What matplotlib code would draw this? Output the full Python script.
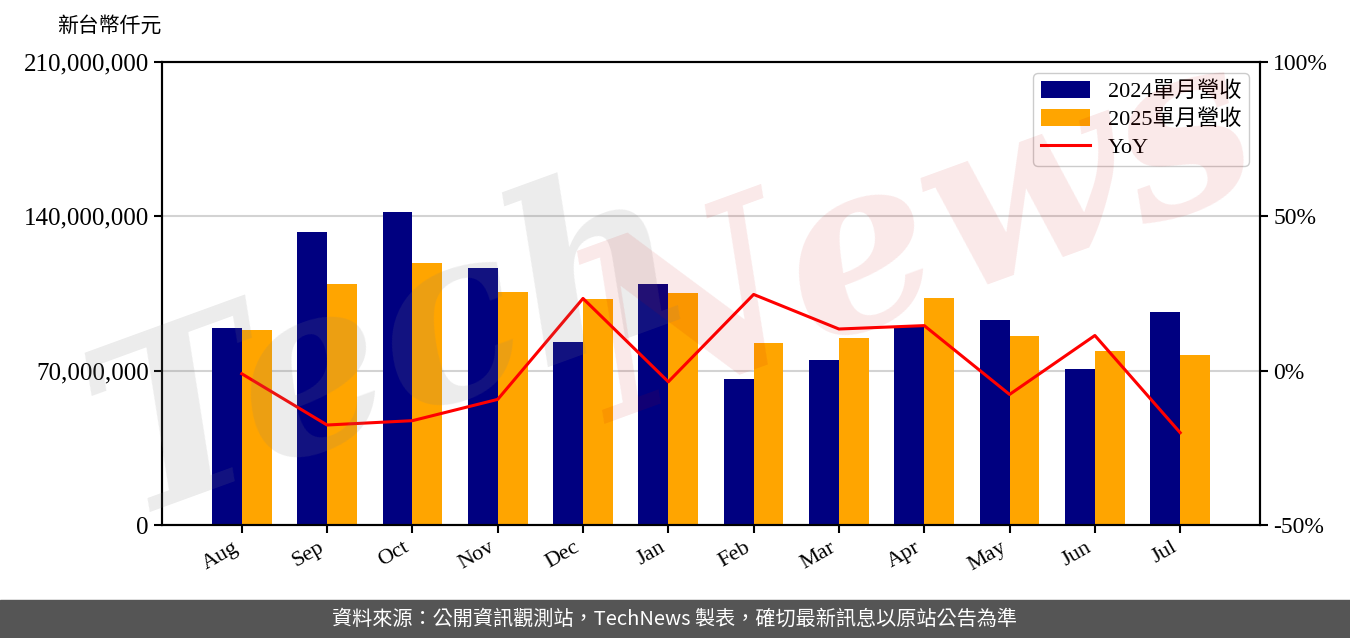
import numpy as np
import matplotlib.pyplot as plt
from matplotlib.ticker import FuncFormatter

# monthly revenue, NT$ thousand
months = ['Aug', 'Sep', 'Oct', 'Nov', 'Dec', 'Jan', 'Feb', 'Mar', 'Apr', 'May', 'Jun', 'Jul']
rev_2024 = [89.4e6, 132.9e6, 142.0e6, 116.6e6, 83.0e6, 109.3e6, 66.2e6, 74.8e6, 90.3e6, 93.0e6, 70.8e6, 96.6e6]
rev_2025 = [88.4e6, 109.3e6, 118.8e6, 105.7e6, 102.5e6, 105.2e6, 82.5e6, 84.8e6, 103.0e6, 85.7e6, 78.9e6, 77.1e6]
yoy = [-1.0, -17.6, -16.2, -9.3, 23.4, -3.6, 24.7, 13.5, 14.6, -7.7, 11.4, -20.1]

serif = ['Liberation Serif', 'Noto Sans CJK TC']
plt.rcParams['font.family'] = serif

fig = plt.figure(figsize=(13.5, 6.38), dpi=100)
ax = fig.add_axes([0.12, 0.1771, 0.8133, 0.7257])
ax2 = ax.twinx()

x = np.arange(len(months))
w = 0.35
# tick sits between the two bars of a month
b1 = ax.bar(x - w / 2, rev_2024, w, color='#000080')
b2 = ax.bar(x + w / 2, rev_2025, w, color='#FFA500')
ln, = ax2.plot(x, yoy, color='#FF0000', lw=2.2)

ax.set_ylim(0, 210e6)
ax.set_yticks([0, 70e6, 140e6, 210e6])
ax.yaxis.set_major_formatter(FuncFormatter(lambda v, p: f'{int(v):,}'))
ax2.set_ylim(-50, 100)
ax2.set_yticks([-50, 0, 50, 100])
ax2.yaxis.set_major_formatter(FuncFormatter(lambda v, p: f'{int(v)}%'))

ax.set_xticks(x)
ax.set_xticklabels(months, rotation=30, ha='right')
ax.grid(axis='y', color='#d3d3d3', lw=1.5)
ax.set_axisbelow(True)

for a in (ax, ax2):
    for s in a.spines.values():
        s.set_linewidth(1.5)
    a.tick_params(width=1.5, length=6)
ax.tick_params(axis='x', labelsize=16)
ax.tick_params(axis='y', labelsize=18)
ax2.tick_params(axis='y', labelsize=17)

fig.text(57 / 1350, 1 - 27 / 638, '新台幣仟元', fontsize=15, va='center', ha='left')

ax2.legend([b1, b2, ln], ['2024單月營收', '2025單月營收', 'YoY'], loc='upper right',
           fontsize=16, handlelength=2.2, handleheight=0.8, borderpad=0.35,
           labelspacing=0.3, framealpha=1, edgecolor='#cccccc')

# watermark
fig.text(0.29, 0.45, 'Tech', fontsize=170, color=(0.5, 0.5, 0.5), alpha=0.15,
         rotation=20, ha='center', va='center', family='DejaVu Serif',
         style='italic', weight='bold', zorder=10)
fig.text(0.68, 0.62, 'News', fontsize=170, color=(0.8, 0.0, 0.0), alpha=0.09,
         rotation=20, ha='center', va='center', family='DejaVu Serif',
         style='italic', weight='bold', zorder=10)

# footer
fig.patches.append(plt.Rectangle((0, 0), 1, 38 / 638, transform=fig.transFigure,
                                 color='#555555', zorder=0))
fig.text(0.5, 19 / 638, '資料來源：公開資訊觀測站，TechNews 製表，確切最新訊息以原站公告為準',
         color='white', fontsize=14.5, ha='center', va='center',
         family=['Noto Sans CJK TC', 'DejaVu Sans'])

fig.savefig('out.png', dpi=100)
